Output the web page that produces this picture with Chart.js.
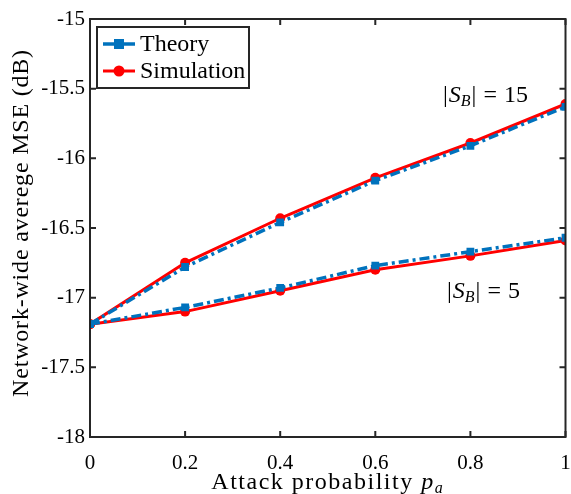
<!DOCTYPE html>
<html>
<head>
<meta charset="utf-8">
<script src="https://cdn.jsdelivr.net/npm/chart.js@4.4.1/dist/chart.umd.min.js"></script>
<style>
  html, body { margin: 0; padding: 0; background: #fff; }
  #wrap { width: 571px; height: 494px; position: relative; }
</style>
</head>
<body>
<div id="wrap"><canvas id="mseChart"></canvas></div>
<script>
const attackProb = [0, 0.2, 0.4, 0.6, 0.8, 1];
const theory15 = [-17.19, -16.78, -16.46, -16.16, -15.91, -15.63];
const sim15 = [-17.19, -16.75, -16.43, -16.14, -15.89, -15.61];
const theory5 = [-17.19, -17.07, -16.93, -16.77, -16.67, -16.57];
const sim5 = [-17.19, -17.10, -16.95, -16.80, -16.70, -16.59];
const seriesNames = ["Theory", "Simulation"];
const xTicks = [0, 0.2, 0.4, 0.6, 0.8, 1];
const yTicks = [-18, -17.5, -17, -16.5, -16, -15.5, -15];

const BLUE = "#0072BD";
const RED = "#FF0000";
const SERIF = "'Liberation Serif', 'DejaVu Serif', serif";
const blueDash = [10, 4, 3, 4];

function points(ys) {
  return attackProb.map((x, i) => ({ x: x, y: ys[i] }));
}

function theorySet(ys) {
  return {
    label: seriesNames[0],
    data: points(ys),
    borderColor: BLUE,
    backgroundColor: BLUE,
    borderWidth: 3.5,
    borderDash: blueDash,
    pointStyle: "rect",
    pointRadius: 5.5,
    pointBorderWidth: 0,
    fill: false,
    tension: 0,
  };
}

function simSet(ys) {
  return {
    label: seriesNames[1],
    data: points(ys),
    borderColor: RED,
    backgroundColor: RED,
    borderWidth: 3,
    pointStyle: "circle",
    pointRadius: 5,
    pointBorderWidth: 0,
    fill: false,
    tension: 0,
  };
}

// frame with inward ticks on all four sides, legend box, curve labels, axis titles
const decorations = {
  id: "decorations",
  afterDraw(chart) {
    const ctx = chart.ctx;
    const a = chart.chartArea;
    const xs = chart.scales.x;
    const ys = chart.scales.y;
    const tl = 6;
    ctx.save();
    ctx.strokeStyle = "#262626";
    ctx.lineWidth = 2;
    ctx.strokeRect(a.left, a.top, a.right - a.left, a.bottom - a.top);
    ctx.beginPath();
    xTicks.forEach((v) => {
      const px = xs.getPixelForValue(v);
      ctx.moveTo(px, a.bottom); ctx.lineTo(px, a.bottom - tl);
      ctx.moveTo(px, a.top); ctx.lineTo(px, a.top + tl);
    });
    yTicks.forEach((v) => {
      const py = ys.getPixelForValue(v);
      ctx.moveTo(a.left, py); ctx.lineTo(a.left + tl, py);
      ctx.moveTo(a.right, py); ctx.lineTo(a.right - tl, py);
    });
    ctx.stroke();

    // legend
    const lx = a.left + 7, ly = a.top + 8, lw = 152, lh = 61;
    ctx.fillStyle = "#fff";
    ctx.fillRect(lx, ly, lw, lh);
    ctx.strokeStyle = "#262626";
    ctx.lineWidth = 2;
    ctx.strokeRect(lx, ly, lw, lh);
    const rows = [
      { ds: chart.data.datasets[0], y: ly + 17 },
      { ds: chart.data.datasets[2], y: ly + 44 },
    ];
    rows.forEach((r) => {
      ctx.strokeStyle = r.ds.borderColor;
      ctx.lineWidth = r.ds.borderWidth;
      ctx.setLineDash([]);
      ctx.beginPath();
      ctx.moveTo(lx + 6, r.y);
      ctx.lineTo(lx + 38, r.y);
      ctx.stroke();
      ctx.fillStyle = r.ds.backgroundColor;
      if (r.ds.pointStyle === "rect") {
        ctx.fillRect(lx + 22 - 5, r.y - 5, 10, 10);
      } else {
        ctx.beginPath();
        ctx.arc(lx + 22, r.y, 5.5, 0, Math.PI * 2);
        ctx.fill();
      }
      ctx.fillStyle = "#000";
      ctx.font = "24px " + SERIF;
      ctx.textBaseline = "middle";
      ctx.textAlign = "left";
      ctx.fillText(r.ds.label, lx + 43, r.y + 1);
    });

    // |S_B| labels next to each curve pair
    function setLabel(x, y, n) {
      ctx.fillStyle = "#000";
      ctx.textBaseline = "alphabetic";
      ctx.textAlign = "left";
      let cx = x;
      ctx.font = "24px " + SERIF;
      ctx.fillText("|", cx, y); cx += ctx.measureText("|").width + 1;
      ctx.font = "italic 24px " + SERIF;
      ctx.fillText("S", cx, y); cx += ctx.measureText("S").width;
      ctx.font = "italic 16px " + SERIF;
      ctx.fillText("B", cx, y + 4); cx += ctx.measureText("B").width + 1;
      ctx.font = "24px " + SERIF;
      ctx.fillText("|", cx, y); cx += ctx.measureText("|").width + 7;
      ctx.fillText("=", cx, y); cx += ctx.measureText("=").width + 7;
      ctx.fillText(String(n), cx, y);
    }
    setLabel(443, 102, 15);
    setLabel(447, 298, 5);

    // x axis title
    ctx.fillStyle = "#000";
    ctx.textBaseline = "alphabetic";
    ctx.textAlign = "left";
    ctx.letterSpacing = "1.5px";
    const t1 = "Attack probability ";
    ctx.font = "24px " + SERIF;
    const w1 = ctx.measureText(t1).width;
    ctx.font = "italic 24px " + SERIF;
    const wp = ctx.measureText("p").width;
    ctx.font = "italic 16px " + SERIF;
    const wa = ctx.measureText("a").width;
    let cx = (a.left + a.right) / 2 - (w1 + wp + wa) / 2;
    const by = 489;
    ctx.font = "24px " + SERIF;
    ctx.fillText(t1, cx, by); cx += w1;
    ctx.font = "italic 24px " + SERIF;
    ctx.fillText("p", cx, by); cx += wp;
    ctx.font = "italic 16px " + SERIF;
    ctx.fillText("a", cx, by + 4);

    // y axis title
    ctx.letterSpacing = "0.8px";
    ctx.translate(22, (a.top + a.bottom) / 2 - 5);
    ctx.rotate(-Math.PI / 2);
    ctx.textAlign = "center";
    ctx.textBaseline = "middle";
    ctx.font = "24px " + SERIF;
    ctx.fillText("Network-wide averege MSE (dB)", 0, 0);
    ctx.restore();
  },
};

const ctx = document.getElementById("mseChart").getContext("2d");
new Chart(ctx, {
  type: "line",
  data: {
    datasets: [theorySet(theory15), theorySet(theory5), simSet(sim15), simSet(sim5)],
  },
  options: {
    responsive: true,
    maintainAspectRatio: false,
    animation: false,
    layout: { padding: { top: 19, right: 5, left: 0, bottom: 0 } },
    plugins: { legend: { display: false }, tooltip: { enabled: false } },
    scales: {
      x: {
        type: "linear",
        min: 0,
        max: 1,
        afterFit: (s) => { s.height = 57; s.paddingRight = 0; s.paddingLeft = 0; },
        afterBuildTicks: (s) => { s.ticks = xTicks.map((v) => ({ value: v })); },
        grid: { display: false, drawTicks: false },
        border: { display: false },
        ticks: {
          color: "#000",
          padding: 14,
          maxRotation: 0,
          font: { family: SERIF, size: 21 },
          callback: (v) => String(v),
        },
      },
      y: {
        type: "linear",
        min: -18,
        max: -15,
        afterFit: (s) => { s.width = 90; s.paddingTop = 0; s.paddingBottom = 0; },
        afterBuildTicks: (s) => { s.ticks = yTicks.map((v) => ({ value: v })); },
        grid: { display: false, drawTicks: false },
        border: { display: false },
        ticks: {
          color: "#000",
          padding: 5,
          font: { family: SERIF, size: 21 },
          callback: (v) => String(v),
        },
      },
    },
  },
  plugins: [decorations],
});
</script>
</body>
</html>
